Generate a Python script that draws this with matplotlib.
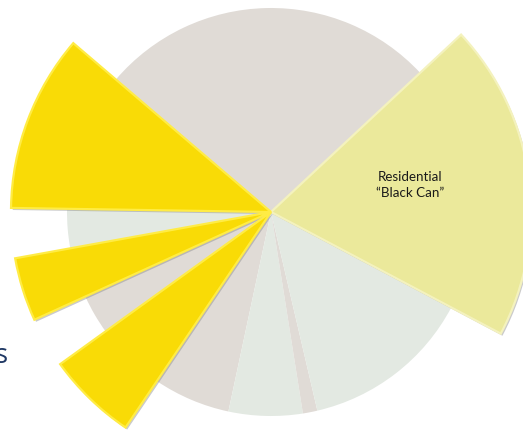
import matplotlib.pyplot as plt
import matplotlib.patches as mpatches

# slices, counter-clockwise from the start angle (percent of the whole)
segments = ["Residential \u201cBlack Can\u201d", "s2", "s3", "s4", "s5", "s6",
            "s7", "s8", "s9", "s10", "s11"]
shares = [19.7, 26.8, 11.0, 3.1, 3.95, 3.15, 5.6, 6.1, 5.85, 1.15, 13.6]
base_colors = ["#E0DBD6", "#E0DBD6", "#E0DBD6", "#E3E9E2", "#E0DBD6", "#E0DBD6",
               "#E0DBD6", "#E0DBD6", "#E3E9E2", "#E0DBD6", "#E3E9E2"]
# slices pulled out to the larger radius
highlight = {0: "#EBE99B", 2: "#F9DB06", 4: "#F9DB06", 6: "#F9DB06"}
edge_light = {0: "#F4F2BE", 2: "#FFEC45", 4: "#FFEC45", 6: "#FFEC45"}

start = -27.9
cx, cy = 271, 218
r_base, r_big = 204, 260

fig = plt.figure(figsize=(5.23, 4.30), dpi=100)
ax = fig.add_axes([0, 0, 1, 1])

ax.pie(shares, colors=base_colors, startangle=start, radius=r_base,
       center=(cx, cy), wedgeprops=dict(linewidth=0))

big, _ = ax.pie(shares, colors=["none"] * len(shares), startangle=start,
                radius=r_big, center=(cx, cy), wedgeprops=dict(linewidth=0))
for i, w in enumerate(big):
    if i in highlight:
        w.set_facecolor(highlight[i])
        w.set_edgecolor(edge_light[i])
        w.set_linewidth(1.6)
        w.set_zorder(3)
        sh = mpatches.Shadow(w, 1.2, -1.5)
        sh.set_facecolor("#8c8c8c")
        sh.set_edgecolor("none")
        sh.set_alpha(0.45)
        sh.set_zorder(2)
        ax.add_patch(sh)
    else:
        w.set_visible(False)

ax.text(410, 245, "Residential\n\u201cBlack Can\u201d", ha="center", va="center",
        fontsize=9.6, family="Lato", color="#1a1a1a", linespacing=1.4, zorder=5)
ax.text(8, 67, "s", ha="right", va="baseline", fontsize=20,
        family="Open Sans", color="#1F3864")

ax.set_xlim(0, 523)
ax.set_ylim(0, 430)
ax.set_aspect("equal")
ax.axis("off")
fig.savefig("out.png", dpi=100)
